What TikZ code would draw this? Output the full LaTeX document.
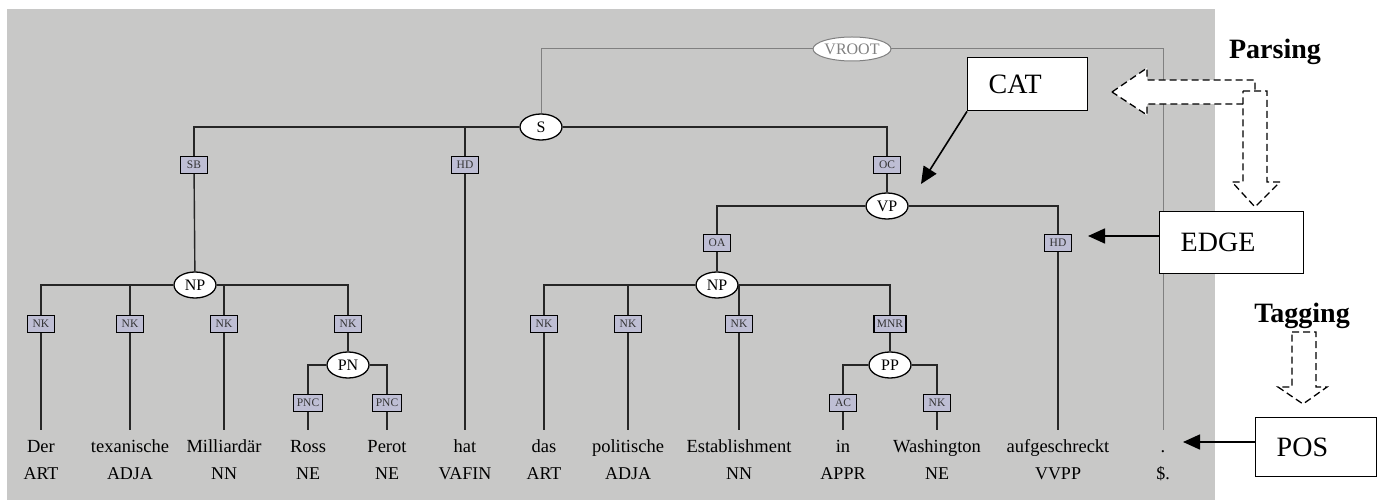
\documentclass[tikz,border=0pt]{standalone}
\usepackage{fontspec}
\setmainfont{Liberation Serif}
\usetikzlibrary{shapes.geometric,arrows.meta,calc}
\definecolor{panel}{RGB}{200,200,199}
\definecolor{lblfill}{RGB}{190,190,212}
\definecolor{rootgray}{RGB}{128,128,128}

\begin{document}
\begin{tikzpicture}[x=1pt,y=-1pt,
  catnode/.style={ellipse,draw=black,line width=1.3pt,fill=white,minimum width=42pt,minimum height=26pt,inner sep=0pt,font=\fontsize{16}{16}\selectfont},
  rootnode/.style={ellipse,draw=rootgray,line width=1pt,fill=white,minimum width=76pt,minimum height=24pt,inner sep=0pt,text=rootgray,font=\fontsize{16}{16}\selectfont},
  lbl/.style={rectangle,draw=black,line width=1.3pt,fill=lblfill,minimum width=27pt,minimum height=17pt,inner xsep=3pt,inner ysep=0pt,font=\fontsize{11.5}{11.5}\selectfont,text=black!80},
  word/.style={anchor=north,inner sep=0pt,text height=22pt,text depth=5pt,font=\fontsize{18.5}{18.5}\selectfont},
  tag/.style={anchor=base,inner sep=0pt,font=\fontsize{18}{18}\selectfont},
  tree/.style={line width=1.4pt,black!85},
  rootline/.style={line width=1pt,rootgray},
  annbox/.style={draw,line width=1.4pt,fill=white,anchor=north west,inner xsep=21pt,inner ysep=0pt,align=left,font=\fontsize{28}{28}\selectfont},
  pointer/.style={line width=1.6pt,-{Triangle[length=17pt,width=15pt]}},
  blockarrow/.style={draw,dash pattern=on 7pt off 4pt,line width=1.3pt,fill=white,line join=miter},
  stage/.style={font=\fontsize{28}{28}\selectfont\bfseries,inner sep=0pt,anchor=base}
]
\useasboundingbox (0,0) rectangle (1380,502);
\fill[panel] (7,9) rectangle (1215,500);

% --- terminal words and their POS tags
\node[word] (w1)  at (41,430)   {Der};
\node[word] (w2)  at (130,430)  {texanische};
\node[word] (w3)  at (224,430)  {Milliardär};
\node[word] (w4)  at (308,430)  {Ross};
\node[word] (w5)  at (387,430)  {Perot};
\node[word] (w6)  at (465,430)  {hat};
\node[word] (w7)  at (544,430)  {das};
\node[word] (w8)  at (628,430)  {politische};
\node[word] (w9)  at (739,430)  {Establishment};
\node[word] (w10) at (843,430)  {in};
\node[word] (w11) at (937,430)  {Washington};
\node[word] (w12) at (1058,430) {aufgeschreckt};
\node[word] (w13) at (1163,430) {.};

\node[tag] (t1)  at (41,479)   {ART};
\node[tag] (t2)  at (130,479)  {ADJA};
\node[tag] (t3)  at (224,479)  {NN};
\node[tag] (t4)  at (308,479)  {NE};
\node[tag] (t5)  at (387,479)  {NE};
\node[tag] (t6)  at (465,479)  {VAFIN};
\node[tag] (t7)  at (544,479)  {ART};
\node[tag] (t8)  at (628,479)  {ADJA};
\node[tag] (t9)  at (739,479)  {NN};
\node[tag] (t10) at (843,479)  {APPR};
\node[tag] (t11) at (937,479)  {NE};
\node[tag] (t12) at (1058,479) {VVPP};
\node[tag] (t13) at (1163,479) {\$.};

% --- phrase categories
\node[rootnode] (vroot) at (852,49) {VROOT};
\node[catnode] (s)   at (541,127) {S};
\node[catnode] (vp)  at (887,206) {VP};
\node[catnode] (np1) at (195,285) {NP};
\node[catnode] (np2) at (717,285) {NP};
\node[catnode] (pn)  at (348,365) {PN};
\node[catnode] (pp)  at (890,365) {PP};

% --- edge labels
\node[lbl] (sb)   at (194,165)  {SB};
\node[lbl] (hd1)  at (465,165)  {HD};
\node[lbl] (oc)   at (887,165)  {OC};
\node[lbl] (oa)   at (717,243)  {OA};
\node[lbl] (hd2)  at (1058,243) {HD};
\node[lbl] (nk1)  at (41,324)   {NK};
\node[lbl] (nk2)  at (130,324)  {NK};
\node[lbl] (nk3)  at (224,324)  {NK};
\node[lbl] (nk4)  at (348,324)  {NK};
\node[lbl] (nk5)  at (544,324)  {NK};
\node[lbl] (nk6)  at (628,324)  {NK};
\node[lbl] (nk7)  at (739,324)  {NK};
\node[lbl] (mnr)  at (890,324)  {MNR};
\node[lbl] (pnc1) at (308,403)  {PNC};
\node[lbl] (pnc2) at (387,403)  {PNC};
\node[lbl] (ac)   at (843,403)  {AC};
\node[lbl] (nk8)  at (937,403)  {NK};

% --- tree connectors
\draw[rootline] (vroot) -| (s);
\draw[rootline] (vroot) -| (w13);

\draw[tree] (s) -| (sb);  \draw[tree] (sb) -- (np1);
\draw[tree] (s) -| (hd1); \draw[tree] (hd1) -- (w6);
\draw[tree] (s) -| (oc);  \draw[tree] (oc) -- (vp);

\draw[tree] (vp) -| (oa);  \draw[tree] (oa) -- (np2);
\draw[tree] (vp) -| (hd2); \draw[tree] (hd2) -- (w12);

\foreach \k/\w in {nk1/w1,nk2/w2,nk3/w3}{
  \draw[tree] (np1) -| (\k); \draw[tree] (\k) -- (\w);
}
\draw[tree] (np1) -| (nk4); \draw[tree] (nk4) -- (pn);
\draw[tree] (pn) -| (pnc1); \draw[tree] (pnc1) -- (w4);
\draw[tree] (pn) -| (pnc2); \draw[tree] (pnc2) -- (w5);

\foreach \k/\w in {nk5/w7,nk6/w8,nk7/w9}{
  \draw[tree] (np2) -| (\k); \draw[tree] (\k) -- (\w);
}
\draw[tree] (np2) -| (mnr); \draw[tree] (mnr) -- (pp);
\draw[tree] (pp) -| (ac);  \draw[tree] (ac) -- (w10);
\draw[tree] (pp) -| (nk8); \draw[tree] (nk8) -- (w11);

% --- processing-stage arrows (dashed block arrows)
\path[blockarrow] (1112,92) -- (1147,68) -- (1147,80) -- (1255,80) -- (1255,104)
  -- (1147,104) -- (1147,115) -- cycle;
\path[blockarrow] (1243,91) -- (1267,91) -- (1267,182) -- (1280,182) -- (1255,207)
  -- (1232,182) -- (1243,182) -- cycle;
\path[blockarrow] (1292,332) -- (1316,332) -- (1316,387) -- (1327,387) -- (1303,404)
  -- (1278,387) -- (1292,387) -- cycle;

\node[stage] (parsing) at (1275,59)  {Parsing};
\node[stage] (tagging) at (1302,323) {Tagging};

% --- annotation boxes
\node[annbox,text width=78pt,minimum height=53pt]  (catbox)  at (967,57)   {CAT};
\node[annbox,text width=102pt,minimum height=62pt] (edgebox) at (1159,211) {EDGE};
\node[annbox,text width=79pt,minimum height=59pt]  (posbox)  at (1255,417) {POS};

\coordinate (cattip)  at (921,184);
\coordinate (edgetip) at (1088,236);
\coordinate (postip)  at (1183,442);
\draw[pointer] (catbox.south west) -- (cattip);
\draw[pointer] (edgetip -| edgebox.west) -- (edgetip);
\draw[pointer] (postip -| posbox.west) -- (postip);
\end{tikzpicture}
\end{document}
